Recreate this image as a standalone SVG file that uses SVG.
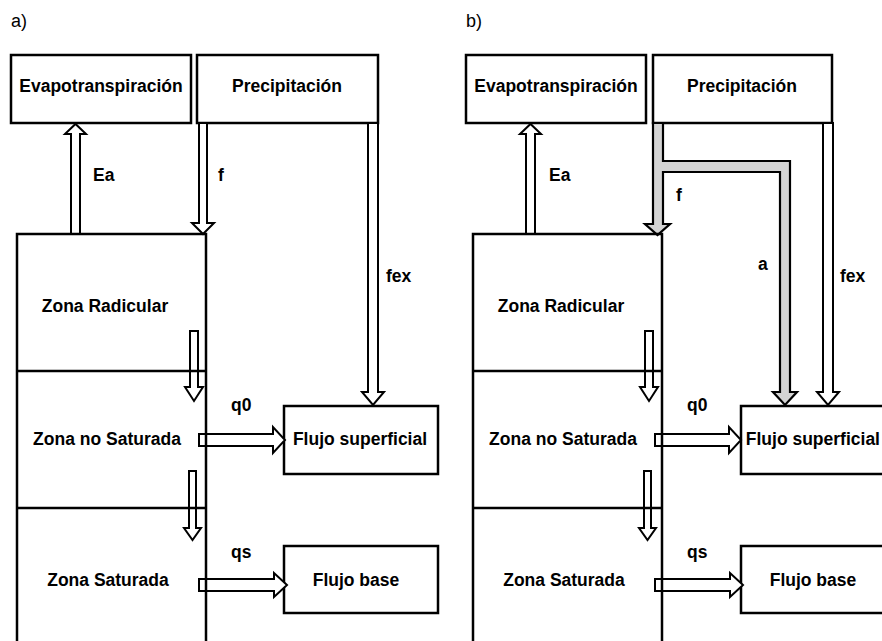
<svg xmlns="http://www.w3.org/2000/svg" width="882" height="641" viewBox="0 0 882 641">
<style>
.box{fill:#fff;stroke:#000;stroke-width:2.5}
.ln{stroke:#000;stroke-width:2.5;fill:none}
.arr{fill:#fff;stroke:#000;stroke-width:2;stroke-linejoin:miter}
.garr{fill:#d4d4d4;stroke:#000;stroke-width:2.2;stroke-linejoin:miter}
text{font-family:"Liberation Sans",Arial,sans-serif;font-weight:bold;font-size:17.5px;fill:#000}
.c{text-anchor:middle}
.e{text-anchor:end}
.pl{font-weight:normal;font-size:18px}
</style>
<rect width="882" height="641" fill="#fff"/>
<text class="pl" x="11" y="27">a)</text>
<text class="pl" x="466" y="27">b)</text>

<!-- Panel a -->
<g id="a-evapo"><rect class="box" x="11" y="55" width="180" height="68"/><text class="c" x="101" y="92">Evapotranspiración</text></g>
<g id="a-precip"><rect class="box" x="197" y="55" width="181" height="68"/><text class="c" x="287" y="92">Precipitación</text></g>
<g id="a-flujosup"><rect class="box" x="284" y="406" width="154" height="68"/><text class="c" x="360" y="445">Flujo superficial</text></g>
<g id="a-flujobase"><rect class="box" x="284" y="546" width="154" height="67"/><text class="c" x="356" y="586">Flujo base</text></g>
<g id="a-connectors">
<polygon class="arr" points="71,234 71,134 65,134 75.5,124 86,134 80,134 80,234"/>
<polygon class="arr" points="199,123 199,223 192,223 203,234 214,223 207,223 207,123"/>
<polygon class="arr" points="368,123 368,392 362,392 373,405 384,392 378,392 378,123"/>
<polygon class="arr" points="190,331 190,387 185,387 194,401 203,387 198,387 198,331"/>
<polygon class="arr" points="189,471 189,528 184,528 192.5,540 201,528 196,528 196,471"/>
<polygon class="arr" points="199,434 273,434 273,427 285,440 273,453 273,446 199,446"/>
<polygon class="arr" points="199,579 274,579 274,573 287,585 274,597 274,591 199,591"/>
<text x="93" y="181">Ea</text>
<text x="218" y="181">f</text>
<text x="386" y="282">fex</text>
<text x="231" y="411">q0</text>
<text x="231" y="558">qs</text>
</g>
<g id="a-suelo">
<path class="ln" d="M17,645 V234 H206 V645"/>
<line class="ln" x1="17" y1="371" x2="206" y2="371" stroke-width="3"/>
<line class="ln" x1="17" y1="508" x2="206" y2="508" stroke-width="2"/>
</g>
<g id="a-radicular"><text class="c" x="105" y="312">Zona Radicular</text></g>
<g id="a-nosat"><text class="c" x="107" y="445">Zona no Saturada</text></g>
<g id="a-sat"><text class="c" x="108" y="586">Zona Saturada</text></g>

<!-- Panel b -->
<g id="b-evapo"><rect class="box" x="466" y="55" width="180" height="68"/><text class="c" x="556" y="92">Evapotranspiración</text></g>
<g id="b-precip"><rect class="box" x="653" y="55" width="179" height="68"/><text class="c" x="742" y="92">Precipitación</text></g>
<g id="b-flujosup"><rect class="box" x="741" y="406" width="154" height="68"/><text class="e" x="880" y="445">Flujo superficial</text></g>
<g id="b-flujobase"><rect class="box" x="741" y="546" width="154" height="67"/><text class="c" x="813" y="586">Flujo base</text></g>
<g id="b-connectors">
<polygon class="arr" points="526,234 526,134 520,134 530.5,124 541,134 535,134 535,234"/>
<polygon class="garr" points="653,123 653,224 645,224 657.5,235 670,224 663,224 663,172 780,172 780,392 773,392 785,405 797,392 790,392 790,161 663,161 663,123"/>
<polygon class="arr" points="823,123 823,392 817,392 828,405 839,392 833,392 833,123"/>
<polygon class="arr" points="645,331 645,387 640,387 649,401 658,387 653,387 653,331"/>
<polygon class="arr" points="644,471 644,528 639,528 647.5,540 656,528 651,528 651,471"/>
<polygon class="arr" points="655,434 729,434 729,427 741,440 729,453 729,446 655,446"/>
<polygon class="arr" points="655,579 730,579 730,573 743,585 730,597 730,591 655,591"/>
<text x="549" y="181">Ea</text>
<text x="676" y="201">f</text>
<text x="758" y="270">a</text>
<text x="840" y="282">fex</text>
<text x="687" y="411">q0</text>
<text x="687" y="558">qs</text>
</g>
<g id="b-suelo">
<path class="ln" d="M473,645 V234 H662 V645"/>
<line class="ln" x1="473" y1="371" x2="662" y2="371" stroke-width="3"/>
<line class="ln" x1="473" y1="508" x2="662" y2="508" stroke-width="2"/>
</g>
<g id="b-radicular"><text class="c" x="561" y="312">Zona Radicular</text></g>
<g id="b-nosat"><text class="c" x="563" y="445">Zona no Saturada</text></g>
<g id="b-sat"><text class="c" x="564" y="586">Zona Saturada</text></g>
</svg>
